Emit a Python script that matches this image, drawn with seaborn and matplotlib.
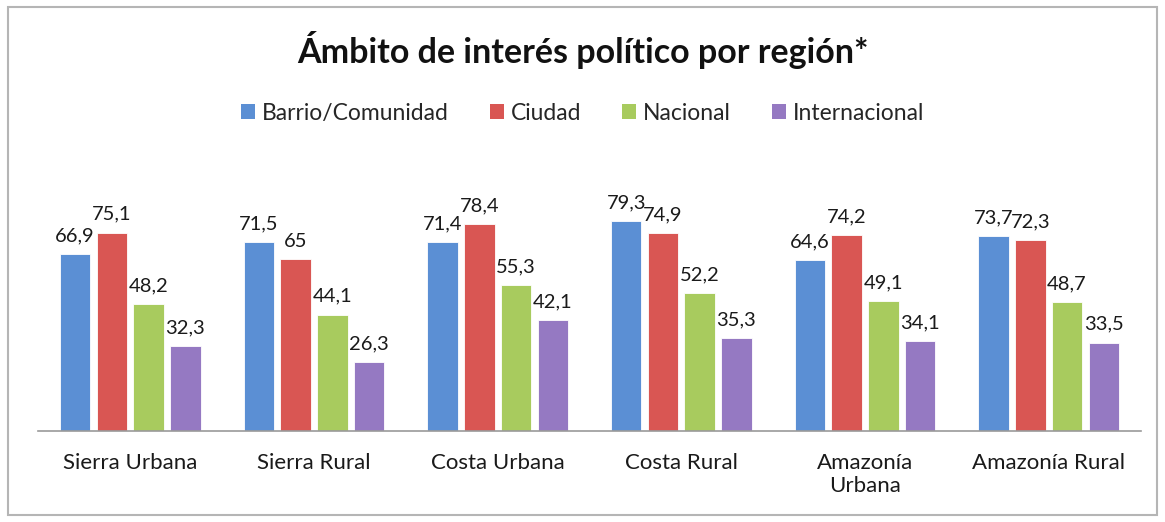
import pandas as pd
import matplotlib
matplotlib.use("Agg")
import matplotlib.pyplot as plt
import seaborn as sns
from matplotlib.patches import Rectangle, Patch

# Chart data
regions = ["Sierra Urbana", "Sierra Rural", "Costa Urbana", "Costa Rural",
           "Amazonía\nUrbana", "Amazonía Rural"]
series = ["Barrio/Comunidad", "Ciudad", "Nacional", "Internacional"]
barrio = [66.9, 71.5, 71.4, 79.3, 64.6, 73.7]
ciudad = [75.1, 65.0, 78.4, 74.9, 74.2, 72.3]
nacional = [48.2, 44.1, 55.3, 52.2, 49.1, 48.7]
internacional = [32.3, 26.3, 42.1, 35.3, 34.1, 33.5]
colors = ["#5B8FD4", "#D95653", "#A8CB5E", "#9579C2"]

df = pd.DataFrame({
    "region": regions * 4,
    "serie": [s for s in series for _ in regions],
    "valor": barrio + ciudad + nacional + internacional,
})

sns.set_theme(style="white")
plt.rcParams['font.family'] = ['Lato', 'DejaVu Sans']

fig = plt.figure(figsize=(11.65, 5.22), dpi=100)
ax = fig.add_axes([0.033, 0.174, 0.946, 0.456])

sns.barplot(data=df, x="region", y="valor", hue="serie", hue_order=series,
            order=regions, palette=colors, saturation=1, width=0.8, gap=0.17,
            edgecolor="#ffffff", linewidth=0.6, ax=ax, legend=False)

for cont in ax.containers:
    labels = [f"{v:.1f}".replace(".", ",").replace(",0", "") for v in cont.datavalues]
    ax.bar_label(cont, labels=labels, padding=7, fontsize=14.5, color="#1a1a1a")

ax.set_ylim(0, 90)
ax.set_xlim(-0.5, len(regions) - 0.5)
ax.set_xlabel("")
ax.set_ylabel("")
ax.set_yticks([])
ax.tick_params(axis="x", length=0, pad=16, labelsize=16, colors="#1a1a1a")
for lbl in ax.get_xticklabels():
    lbl.set_linespacing(1.15)
for side in ["top", "left", "right"]:
    ax.spines[side].set_visible(False)
ax.spines["bottom"].set_color("#9a9a9a")
ax.spines["bottom"].set_linewidth(1.2)

fig.text(0.5, 0.905, "Ámbito de interés político por región*", ha="center",
         va="center", fontsize=24.5, fontweight="bold", color="#111111")

handles = [Patch(facecolor=c, edgecolor="none") for c in colors]
fig.legend(handles, series, loc="center", bbox_to_anchor=(0.5, 0.783), ncol=4,
           frameon=False, fontsize=16.5, handlelength=0.6, handleheight=0.6,
           handletextpad=0.3, columnspacing=1.8)

fig.patches.append(Rectangle((8 / 1165, 7 / 522), 1149 / 1165, 508 / 522,
                             transform=fig.transFigure, fill=False,
                             edgecolor="#b5b5b5", linewidth=1.5))

fig.savefig("out.png", dpi=100, facecolor="white")
